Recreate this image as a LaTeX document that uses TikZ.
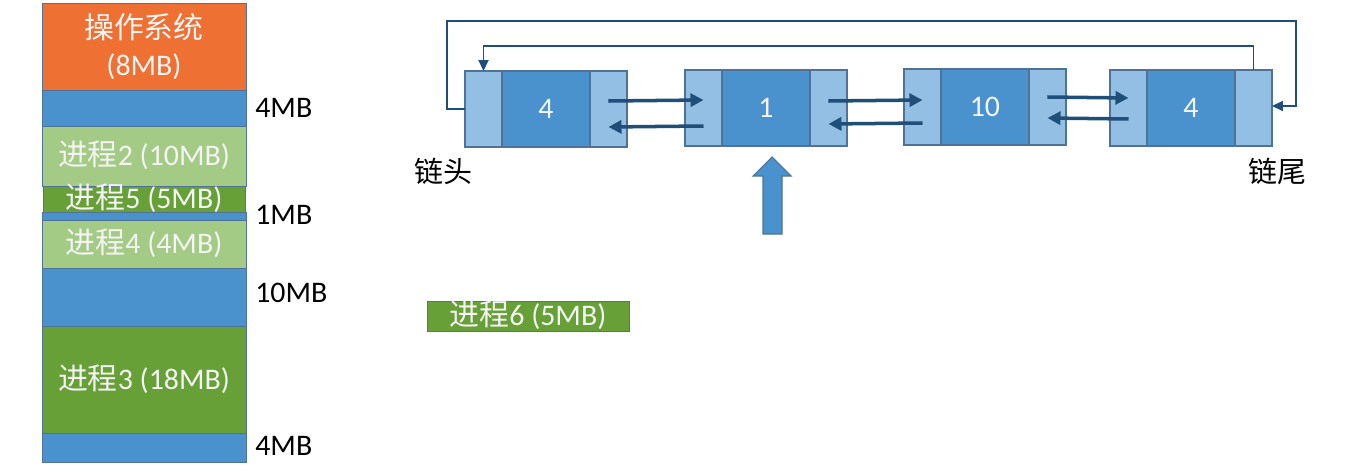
\documentclass[tikz,border=0pt]{standalone}
\usepackage{fontspec}
\setmainfont{Carlito}
\newfontfamily\cjk{Noto Sans CJK SC}
\usetikzlibrary{arrows.meta}
\definecolor{memblue}{HTML}{4A92CE}
\definecolor{cellmid}{HTML}{4A92CE}
\definecolor{celllight}{HTML}{93BFE5}
\definecolor{edgec}{HTML}{4F7396}
\definecolor{osorange}{HTML}{EE7033}
\definecolor{lgreen}{HTML}{A3CB85}
\definecolor{dgreen}{HTML}{66A037}
\definecolor{darkarr}{HTML}{1F4E79}
\definecolor{softwhite}{HTML}{F4F4F4}
\newcommand\myzh[1]{{\cjk #1}}
\begin{document}
\begin{tikzpicture}[x=0.02cm,y=-0.02cm,
  bigfont/.style={font=\fontsize{17}{21}\selectfont},
  mem/.style={draw=edgec, line width=0.5pt, minimum width=4.08cm, inner sep=0pt, outer sep=0pt,
    anchor=north west, text=softwhite, bigfont, text height=12pt, text depth=1pt},
  sizelab/.style={anchor=west, text=black, bigfont, inner sep=0pt},
  cellside/.style={draw=edgec, line width=0.6pt, fill=celllight, minimum width=0.74cm,
    minimum height=1.52cm, inner sep=0pt, outer sep=0pt, anchor=west},
  cellval/.style={draw=edgec, line width=0.6pt, fill=cellmid, minimum width=1.76cm,
    minimum height=1.52cm, inner sep=0pt, outer sep=0pt, anchor=west, text=softwhite, bigfont},
  linkarr/.style={draw=darkarr, line width=2pt, -{Triangle[length=0.26cm,width=0.26cm]}},
  looparr/.style={draw=darkarr, line width=1.1pt, -{Triangle[length=0.22cm,width=0.2cm]}},
  cjklab/.style={text=black, font=\cjk\fontsize{16.5}{16.5}\selectfont, inner sep=0pt}
]
\useasboundingbox (0,0) rectangle (1350,470);

% ---- memory column ----
\node[mem, fill=osorange, minimum height=1.74cm, align=center, text height=, text depth=] (os) at (42,3)
  {\myzh{操作系统}\\(8MB)};
\node[mem, fill=memblue, minimum height=0.72cm] (f1) at (42,90) {};
\node[mem, fill=lgreen, minimum height=1.20cm] (p2) at (42,126) {\myzh{进程}2 (10MB)};
\node[mem, fill=memblue, minimum height=0.16cm] (f2) at (42,212) {};
\node[mem, fill=dgreen, minimum width=4.04cm, minimum height=0.52cm] (p5) at (43,186) {\myzh{进程}5 (5MB)};
\node[mem, fill=lgreen, minimum height=0.96cm] (p4) at (42,220) {\myzh{进程}4 (4MB)};
\node[mem, fill=memblue, minimum height=1.16cm] (f3) at (42,268) {};
\node[mem, fill=dgreen, minimum height=2.14cm] (p3) at (42,326) {\myzh{进程}3 (18MB)};
\node[mem, fill=memblue, minimum height=0.58cm] (f4) at (42,433) {};

\node[sizelab] (l1) at (255,108) {4MB};
\node[sizelab] (l2) at (255,215) {1MB};
\node[sizelab] (l3) at (255,293) {10MB};
\node[sizelab] (l4) at (255,446) {4MB};

% ---- linked list ----
\node[cellside] (n1l) at (465,109) {};
\node[cellval]  (n1m) at (n1l.east) {4};
\node[cellside] (n1r) at (n1m.east) {};

\node[cellside] (n2l) at (685,108) {};
\node[cellval]  (n2m) at (n2l.east) {1};
\node[cellside] (n2r) at (n2m.east) {};

\node[cellside] (n3l) at (904,107) {};
\node[cellval]  (n3m) at (n3l.east) {10};
\node[cellside] (n3r) at (n3m.east) {};

\node[cellside] (n4l) at (1110,108) {};
\node[cellval]  (n4m) at (n4l.east) {4};
\node[cellside] (n4r) at (n4m.east) {};

\draw[linkarr] ([yshift=0.16cm]n1r.center) -- ([yshift=0.16cm]n2l.center);
\draw[linkarr] ([yshift=-0.36cm]n2l.center) -- ([yshift=-0.36cm]n1r.center);
\draw[linkarr] ([yshift=0.14cm]n2r.center) -- ([yshift=0.14cm]n3l.center);
\draw[linkarr] ([yshift=-0.32cm]n3l.center) -- ([yshift=-0.32cm]n2r.center);
\draw[linkarr] ([yshift=0.2cm]n3r.center) -- ([yshift=0.2cm]n4l.center);
\draw[linkarr] ([yshift=-0.22cm]n4l.center) -- ([yshift=-0.22cm]n3r.center);

\coordinate (c1) at (447,21);
\coordinate (c2) at (1296,21);
\draw[looparr] (n1l.west) -| (c1) -- (c2) |- ([yshift=0.04cm]n4r.east);
\draw[looparr] (n4r.north) -- ++(0,-24) -| (n1l.north);

\node[cjklab] (head) at (443,171) {链头};
\node[cjklab] (tail) at (1277,171) {链尾};

% ---- pointer arrow ----
\draw[draw=edgec, fill=memblue, line width=0.6pt]
  (763,234) -- (763,176) -- (753,176) -- (772,157) -- (791,176) -- (782,176) -- (782,234) -- cycle;

% ---- process 6 ----
\node[mem, fill=dgreen, minimum width=4.04cm, minimum height=0.60cm] (p6) at (427,301) {\myzh{进程}6 (5MB)};
\end{tikzpicture}
\end{document}
